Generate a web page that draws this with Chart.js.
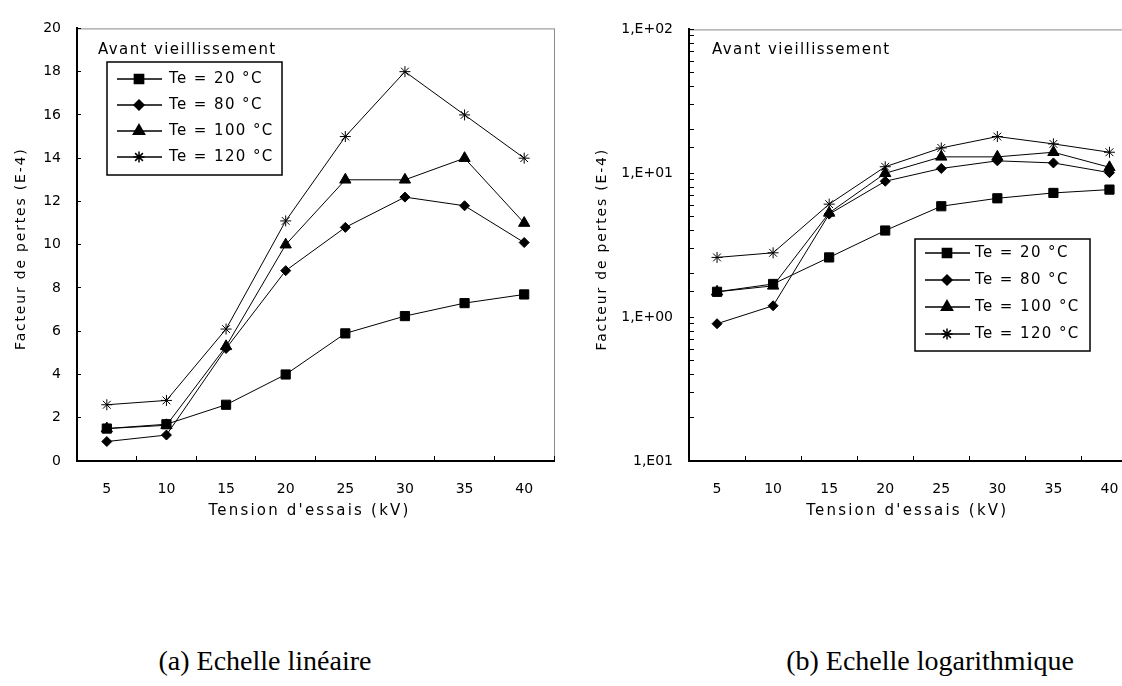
<!DOCTYPE html>
<html>
<head>
<meta charset="utf-8">
<script src="https://cdn.jsdelivr.net/npm/chart.js@4.4.0/dist/chart.umd.min.js"></script>
<style>
  body { margin: 0; width: 1122px; height: 686px; overflow: hidden; background: #fff; position: relative; }
  .wrap { position: absolute; top: 0; height: 530px; }
  #wrapLin { left: 0; width: 575px; }
  #wrapLog { left: 581px; width: 564px; }
  .caption { position: absolute; top: 645px; font: 28px "Liberation Serif", serif; white-space: nowrap; transform: translateX(-50%); }
</style>
</head>
<body>
<div class="wrap" id="wrapLin"><canvas id="chartLin"></canvas></div>
<div class="wrap" id="wrapLog"><canvas id="chartLog"></canvas></div>
<div class="caption" style="left:265px">(a) Echelle linéaire</div>
<div class="caption" style="left:930px">(b) Echelle logarithmique</div>
<script>
// tension d'essais (kV)
const voltages = ['5', '10', '15', '20', '25', '30', '35', '40'];
const seriesNames = ['Te = 20 °C', 'Te = 80 °C', 'Te = 100 °C', 'Te = 120 °C'];
// facteur de pertes (E-4)
const te20 = [1.5, 1.7, 2.6, 4.0, 5.9, 6.7, 7.3, 7.7];
const te80 = [0.9, 1.2, 5.2, 8.8, 10.8, 12.2, 11.8, 10.1];
const te100 = [1.5, 1.65, 5.3, 10.0, 13.0, 13.0, 14.0, 11.0];
const te120 = [2.6, 2.8, 6.1, 11.1, 15.0, 18.0, 16.0, 14.0];
const logTickLabels = { '-1': '1,E01', '0': '1,E+00', '1': '1,E+01', '2': '1,E+02' };

const note = 'Avant vieillissement';
const xTitle = "Tension d'essais (kV)";
const yTitle = 'Facteur de pertes (E-4)';

Chart.defaults.font.family = '"DejaVu Sans", sans-serif';
Chart.defaults.font.size = 14;
Chart.defaults.color = '#000';

const markers = [
    { pointStyle: 'rect', pointRadius: 6.5 },
    { pointStyle: 'rectRot', pointRadius: 5 },
    { pointStyle: 'triangle', pointRadius: 6.5 },
    { pointStyle: 'star', pointRadius: 5.5 }
];

function makeDatasets() {
    return [te20, te80, te100, te120].map((values, i) => ({
        label: seriesNames[i],
        data: values,
        borderColor: '#000',
        borderWidth: 1,
        backgroundColor: '#000',
        pointBackgroundColor: '#000',
        pointBorderColor: '#000',
        pointBorderWidth: 1,
        pointStyle: markers[i].pointStyle,
        pointRadius: markers[i].pointRadius,
        tension: 0
    }));
}

// grey frame on top and right, like the old spreadsheet plot area
const frame = {
    id: 'frame',
    beforeDraw(chart) {
        const a = chart.chartArea;
        const ctx = chart.ctx;
        ctx.save();
        ctx.strokeStyle = '#8a8a8a';
        ctx.lineWidth = 1;
        ctx.strokeRect(a.left + 0.5, a.top + 0.5, a.right - a.left, a.bottom - a.top);
        ctx.restore();
    }
};

// axis titles, drawn here so the wide letter spacing can be kept
const axisTitles = {
    id: 'axisTitles',
    afterDraw(chart, args, opts) {
        const a = chart.chartArea;
        const ctx = chart.ctx;
        ctx.save();
        ctx.fillStyle = '#000';
        ctx.textAlign = 'center';
        ctx.textBaseline = 'middle';
        ctx.font = '15px "DejaVu Sans", sans-serif';
        ctx.letterSpacing = '2.2px';
        ctx.fillText(xTitle, (a.left + a.right) / 2 - 6, 511);
        ctx.translate(21, (a.top + a.bottom) / 2 + 4);
        ctx.rotate(-Math.PI / 2);
        ctx.font = '14px "DejaVu Sans", sans-serif';
        ctx.letterSpacing = '1.8px';
        ctx.fillText(yTitle, 0, 0);
        ctx.restore();
    }
};

// boxed legend drawn inside the plot
const boxLegend = {
    id: 'boxLegend',
    afterDraw(chart, args, opts) {
        const ctx = chart.ctx;
        ctx.save();
        ctx.font = '15px "DejaVu Sans", sans-serif';
        ctx.letterSpacing = '1.4px';
        ctx.textBaseline = 'middle';
        ctx.fillStyle = '#000';
        if (opts.note) {
            ctx.fillText(opts.note, opts.noteX, opts.noteY);
        }
        ctx.fillStyle = '#fff';
        ctx.fillRect(opts.x, opts.y, opts.w, opts.h);
        ctx.strokeStyle = '#000';
        ctx.lineWidth = 1.5;
        ctx.strokeRect(opts.x, opts.y, opts.w, opts.h);
        chart.data.datasets.forEach((ds, i) => {
            const y = opts.y + opts.first + i * opts.step;
            ctx.strokeStyle = '#000';
            ctx.lineWidth = 1.5;
            ctx.beginPath();
            ctx.moveTo(opts.x + 10, y);
            ctx.lineTo(opts.x + 55, y);
            ctx.stroke();
            ctx.fillStyle = '#000';
            Chart.helpers.drawPoint(ctx, {
                pointStyle: ds.pointStyle,
                radius: ds.pointRadius,
                rotation: 0,
                borderWidth: 1
            }, opts.x + 32, y);
            ctx.fillStyle = '#000';
            ctx.fillText(ds.label, opts.x + opts.textX, y);
        });
        ctx.restore();
    }
};

function xScale() {
    return {
        type: 'category',
        offset: true,
        grid: { offset: true, drawOnChartArea: false, tickLength: -5, color: '#000', tickWidth: 1 },
        border: { color: '#000', width: 2 },
        ticks: { padding: 25, autoSkip: false, maxRotation: 0 },
        afterFit(s) { s.height = 69; }
    };
}

new Chart(document.getElementById('chartLin'), {
    type: 'line',
    data: { labels: voltages, datasets: makeDatasets() },
    options: {
        responsive: true,
        maintainAspectRatio: false,
        animation: false,
        layout: { padding: { top: 22, right: 21, left: 0, bottom: 0 } },
        scales: {
            x: xScale(),
            y: {
                min: 0,
                max: 20,
                grid: { drawOnChartArea: false, tickLength: -4, color: '#000' },
                border: { color: '#000', width: 2 },
                ticks: { stepSize: 2, padding: 20 },
                afterFit(s) { s.width = 77; }
            }
        },
        plugins: {
            legend: { display: false },
            tooltip: { enabled: false },
            boxLegend: { x: 107, y: 62, w: 175, h: 113, first: 17, step: 26, textX: 62, note: note, noteX: 98, noteY: 50 }
        }
    },
    plugins: [frame, axisTitles, boxLegend]
});

new Chart(document.getElementById('chartLog'), {
    type: 'line',
    data: { labels: voltages, datasets: makeDatasets() },
    options: {
        responsive: true,
        maintainAspectRatio: false,
        animation: false,
        layout: { padding: { top: 22, right: 7, left: 0, bottom: 0 } },
        scales: {
            x: xScale(),
            y: {
                type: 'logarithmic',
                min: 0.1,
                max: 100,
                grid: { drawOnChartArea: false, tickLength: -5, color: '#000' },
                border: { color: '#000', width: 2 },
                ticks: {
                    padding: 21,
                    autoSkip: false,
                    callback(value) {
                        const e = Math.log10(value);
                        if (Math.abs(e - Math.round(e)) < 1e-9) {
                            return logTickLabels[String(Math.round(e))];
                        }
                        return '';
                    }
                },
                afterFit(s) { s.width = 108; }
            }
        },
        plugins: {
            legend: { display: false },
            tooltip: { enabled: false },
            boxLegend: { x: 334, y: 239, w: 175, h: 112, first: 14, step: 27, textX: 60, note: note, noteX: 131, noteY: 50 }
        }
    },
    plugins: [frame, axisTitles, boxLegend]
});
</script>
</body>
</html>
